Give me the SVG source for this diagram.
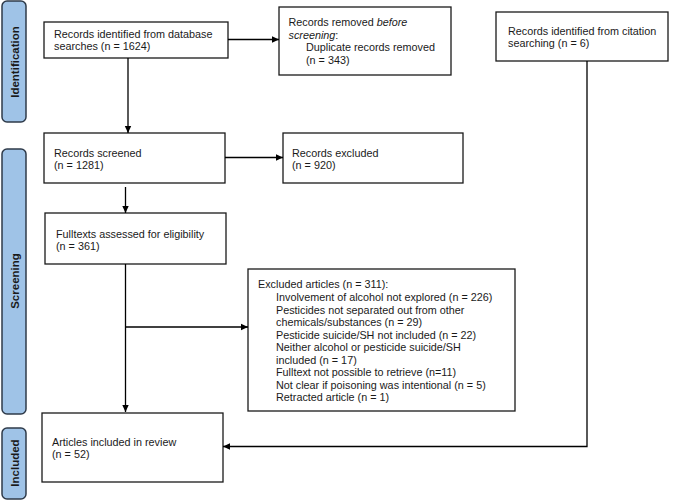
<svg xmlns="http://www.w3.org/2000/svg" width="678" height="501" viewBox="0 0 678 501">
<defs>
<marker id="ah" markerWidth="8" markerHeight="8" refX="7" refY="4" orient="auto" markerUnits="userSpaceOnUse">
<path d="M0,0.8 L7,4 L0,7.2 Z" fill="#000"/>
</marker>
<style>
.box{fill:#fff;stroke:#1a1a1a;stroke-width:1.3}
.band{fill:#9fc3e7;stroke:#2f3b4a;stroke-width:1.5}
.t{font-family:"Liberation Sans",Arial,sans-serif;font-size:10.8px;fill:#1a1a1a}
.bl{font-family:"Liberation Sans",Arial,sans-serif;font-size:11.5px;font-weight:bold;fill:#1a1a1a}
.c{fill:none;stroke:#000;stroke-width:1.3}
</style>
</defs>
<rect width="678" height="501" fill="#fff"/>
<g id="band-identification">
<rect class="band" x="2" y="1" width="24" height="121" rx="5"/>
<text class="bl" transform="translate(18.5 62) rotate(-90)" text-anchor="middle">Identification</text>
</g>
<g id="band-screening">
<rect class="band" x="2" y="149" width="24" height="265" rx="5"/>
<text class="bl" transform="translate(18.5 281) rotate(-90)" text-anchor="middle">Screening</text>
</g>
<g id="band-included">
<rect class="band" x="2" y="428" width="24" height="71" rx="5"/>
<text class="bl" transform="translate(18.5 463) rotate(-90)" text-anchor="middle">Included</text>
</g>
<g id="db-records">
<rect class="box" x="44" y="22" width="184" height="36"/>
<text class="t" x="54" y="37.5">Records identified from database</text>
<text class="t" x="54" y="49.5">searches (n = 1624)</text>
</g>
<g id="removed">
<rect class="box" x="279" y="7" width="172" height="68"/>
<text class="t" x="288.5" y="26">Records removed <tspan font-style="italic">before</tspan></text>
<text class="t" x="288.5" y="38.5"><tspan font-style="italic">screening</tspan>:</text>
<text class="t" x="306" y="51">Duplicate records removed</text>
<text class="t" x="306" y="64">(n = 343)</text>
</g>
<g id="citation">
<rect class="box" x="496" y="12" width="172" height="49"/>
<text class="t" x="508" y="34.5">Records identified from citation</text>
<text class="t" x="508" y="46.5">searching (n = 6)</text>
</g>
<g id="screened">
<rect class="box" x="44" y="133" width="181" height="50"/>
<text class="t" x="54" y="156.5">Records screened</text>
<text class="t" x="54" y="168.5">(n = 1281)</text>
</g>
<g id="excluded-records">
<rect class="box" x="283" y="133" width="180" height="50"/>
<text class="t" x="292" y="156.5">Records excluded</text>
<text class="t" x="292" y="168.5">(n = 920)</text>
</g>
<g id="fulltexts">
<rect class="box" x="45" y="213" width="181" height="51"/>
<text class="t" x="56" y="237.5">Fulltexts assessed  for eligibility</text>
<text class="t" x="56" y="249.5">(n = 361)</text>
</g>
<g id="excluded-articles">
<rect class="box" x="248" y="269" width="267" height="142"/>
<text class="t" x="258" y="288">Excluded articles (n = 311):</text>
<text class="t" x="276" y="300.5">Involvement of alcohol not explored (n = 226)</text>
<text class="t" x="276" y="313.5">Pesticides  not separated out from other</text>
<text class="t" x="276" y="326">chemicals/substances  (n = 29)</text>
<text class="t" x="276" y="338.5">Pesticide suicide/SH  not included  (n = 22)</text>
<text class="t" x="276" y="351">Neither alcohol or pesticide suicide/SH</text>
<text class="t" x="276" y="363.5">included  (n = 17)</text>
<text class="t" x="276" y="376">Fulltext not possible  to retrieve  (n=11)</text>
<text class="t" x="276" y="389">Not clear if poisoning  was intentional  (n = 5)</text>
<text class="t" x="276" y="401">Retracted article (n = 1)</text>
</g>
<g id="included">
<rect class="box" x="42" y="413" width="181" height="69"/>
<text class="t" x="52" y="445.5">Articles included in review</text>
<text class="t" x="52" y="457.5">(n = 52)</text>
</g>
<g id="connectors">
<line class="c" x1="228" y1="39.5" x2="279" y2="39.5" marker-end="url(#ah)"/>
<line class="c" x1="128" y1="58" x2="128" y2="133" marker-end="url(#ah)"/>
<line class="c" x1="225" y1="157.5" x2="283" y2="157.5" marker-end="url(#ah)"/>
<line class="c" x1="125.5" y1="187" x2="125.5" y2="213" marker-end="url(#ah)"/>
<line class="c" x1="125.5" y1="264" x2="125.5" y2="412" marker-end="url(#ah)"/>
<line class="c" x1="125.5" y1="327" x2="248" y2="327" marker-end="url(#ah)"/>
<polyline class="c" points="587,61 587,446.5 223,446.5" marker-end="url(#ah)"/>
</g>
</svg>
